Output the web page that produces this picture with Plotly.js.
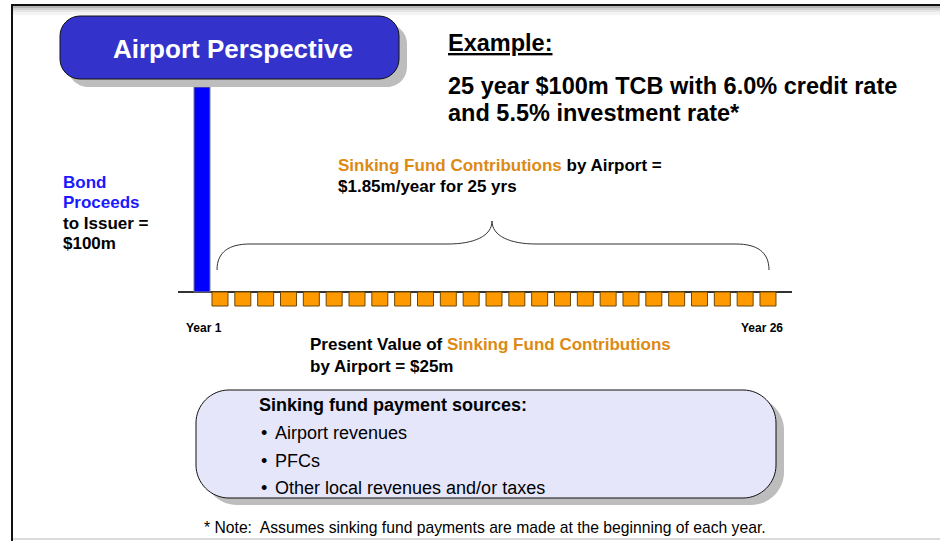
<!DOCTYPE html>
<html><head><meta charset="utf-8">
<script src="https://cdn.plot.ly/plotly-3.0.1.min.js"></script>
<style>html,body{margin:0;padding:0;background:#fff}#chart{width:940px;height:541px}</style>
</head><body><div id="chart"></div>
<script>
// ---- data ----
const years = [1,2,3,4,5,6,7,8,9,10,11,12,13,14,15,16,17,18,19,20,21,22,23,24,25];
const contributions = [1.85,1.85,1.85,1.85,1.85,1.85,1.85,1.85,1.85,1.85,1.85,1.85,1.85,1.85,1.85,1.85,1.85,1.85,1.85,1.85,1.85,1.85,1.85,1.85,1.85];
const proceedsYear = [1];
const proceeds = [100];
const axisLabels = ['Year 1', 'Year 26'];
const bullets = ['Airport revenues', 'PFCs', 'Other local revenues and/or taxes'];

// ---- geometry (pixels) ----
const W = 940, H = 541;
const px = x => x / W;
const py = y => 1 - y / H;
const FONT = 'Liberation Sans, Arial, sans-serif';
const ORANGE_TXT = '#DC8A14';
const BLUE_TXT = '#1a1aff';

const xL = 178, xR = 792, yT = 60, yB = 320, zeroY = 292;
const pitch = 22.833, firstLeft = 212;
const xRange = [1 + (xL - firstLeft) / pitch, 1 + (xR - firstLeft) / pitch];
const k1 = (zeroY - 87) / proceeds[0];
const k2 = 14 / contributions[0];
const y1Range = [-(yB - zeroY) / k1, (zeroY - yT) / k1];
const y2Range = [-(yB - zeroY) / k2, (zeroY - yT) / k2];

const traces = [
  {
    type: 'bar', x: proceedsYear, y: proceeds, yaxis: 'y',
    width: 0.7, offset: -0.788,
    marker: {color: '#0000FF', line: {color: '#7a7a7a', width: 1}},
    hoverinfo: 'skip', showlegend: false
  },
  {
    type: 'bar', x: years, y: contributions.map(v => -v), yaxis: 'y2',
    width: 0.7, offset: 0,
    marker: {color: '#FF9900', line: {color: '#6e4800', width: 1}},
    hoverinfo: 'skip', showlegend: false
  }
];

function roundRect(x0, y0, x1, y1, r) {
  const c = 0.45 * r;
  const P = (x, y) => px(x) + ',' + py(y);
  return 'M ' + P(x0 + r, y0) +
    ' L ' + P(x1 - r, y0) +
    ' C ' + P(x1 - c, y0) + ' ' + P(x1, y0 + c) + ' ' + P(x1, y0 + r) +
    ' L ' + P(x1, y1 - r) +
    ' C ' + P(x1, y1 - c) + ' ' + P(x1 - c, y1) + ' ' + P(x1 - r, y1) +
    ' L ' + P(x0 + r, y1) +
    ' C ' + P(x0 + c, y1) + ' ' + P(x0, y1 - c) + ' ' + P(x0, y1 - r) +
    ' L ' + P(x0, y0 + r) +
    ' C ' + P(x0, y0 + c) + ' ' + P(x0 + c, y0) + ' ' + P(x0 + r, y0) + ' Z';
}
function P2(x, y) { return px(x) + ',' + py(y); }

const bracePath = 'M ' + P2(217, 270) +
  ' C ' + P2(217, 252) + ' ' + P2(229, 244) + ' ' + P2(250, 244) +
  ' L ' + P2(448, 244) +
  ' C ' + P2(474, 244) + ' ' + P2(492, 236) + ' ' + P2(492, 221) +
  ' C ' + P2(492, 236) + ' ' + P2(510, 244) + ' ' + P2(536, 244) +
  ' L ' + P2(736, 244) +
  ' C ' + P2(757, 244) + ' ' + P2(769, 252) + ' ' + P2(769, 270);

const rectPx = (x0, y0, x1, y1, fill) => ({
  type: 'rect', xref: 'paper', yref: 'paper',
  x0: px(x0), x1: px(x1), y0: py(y1), y1: py(y0),
  fillcolor: fill, line: {width: 0}, layer: 'below'
});
const linePx = (x0, y0, x1, y1, color, w) => ({
  type: 'line', xref: 'paper', yref: 'paper',
  x0: px(x0), x1: px(x1), y0: py(y0), y1: py(y1),
  line: {color: color, width: w}
});

const shapes = [
  // frame
  rectPx(12, 6, 940, 8, '#b5b5b5'),
  rectPx(12, 8, 940, 10, '#d2d2d2'),
  rectPx(12, 10, 940, 12, '#e6e6e6'),
  rectPx(12, 12, 940, 15, '#f4f4f4'),
  linePx(12, 5, 940, 5, '#111', 2),
  linePx(12, 4, 12, 541, '#111', 2),
  linePx(13, 539, 940, 539, '#cfcfcf', 1.5),
  // title box
  {type: 'path', xref: 'paper', yref: 'paper', path: roundRect(68, 24, 407, 87, 20), fillcolor: '#bdbdbd', line: {width: 0}},
  {type: 'path', xref: 'paper', yref: 'paper', path: roundRect(60, 16, 399, 79, 20), fillcolor: '#3333CC', line: {color: '#111', width: 1}},
  // lower box
  {type: 'path', xref: 'paper', yref: 'paper', path: roundRect(204, 397, 784, 505, 33), fillcolor: '#bdbdbd', line: {width: 0}},
  {type: 'path', xref: 'paper', yref: 'paper', path: roundRect(196, 390, 776, 498, 33), fillcolor: '#E6E6FA', line: {color: '#111', width: 1}},
  // brace
  {type: 'path', xref: 'paper', yref: 'paper', path: bracePath, line: {color: '#333', width: 1}}
];

function ann(text, x, y, o) {
  o = o || {};
  const anchor = o.xanchor || 'left';
  const xx = anchor === 'left' ? x - 2 : x;
  return {
    text: text, xref: 'paper', yref: 'paper', x: px(xx), y: py(y),
    xanchor: anchor, yanchor: 'middle', showarrow: false,
    align: anchor === 'center' ? 'center' : 'left',
    font: {family: FONT, size: o.size || 17, color: o.color || '#000', weight: o.weight || 'bold'}
  };
}

const annotations = [
  ann('Airport Perspective', 233, 49, {size: 26, color: '#fff', xanchor: 'center'}),
  ann('<u>Example:</u>', 448, 43, {size: 23.5}),
  ann('25 year $100m TCB with 6.0% credit rate', 448, 86, {size: 23.5}),
  ann('and 5.5% investment rate*', 448, 113, {size: 23.5}),
  ann('<span style="color:' + ORANGE_TXT + '">Sinking Fund Contributions</span> by Airport =', 338, 165),
  ann('$' + contributions[0] + 'm/year for ' + years.length + ' yrs', 338, 187),
  ann('Bond', 63, 182, {color: BLUE_TXT}),
  ann('Proceeds', 63, 202, {color: BLUE_TXT}),
  ann('to Issuer =', 63, 223),
  ann('$' + proceeds[0] + 'm', 63, 243),
  ann(axisLabels[0], 204, 328, {size: 12, xanchor: 'center'}),
  ann(axisLabels[1], 762, 328, {size: 12, xanchor: 'center'}),
  ann('Present Value of <span style="color:' + ORANGE_TXT + '">Sinking Fund Contributions</span>', 310, 344),
  ann('by Airport = $25m', 310, 366),
  ann('Sinking fund payment sources:', 259, 405, {size: 18}),
  ann('* Note:  Assumes sinking fund payments are made at the beginning of each year.', 204, 527, {size: 15.7, weight: 'normal'})
];
bullets.forEach((b, i) => {
  const y = 433 + i * 27.5;
  annotations.push(ann('\u2022', 264, y, {size: 18, weight: 'normal', xanchor: 'center'}));
  annotations.push(ann(b, 275, y, {size: 18, weight: 'normal'}));
});

const layout = {
  width: W, height: H, autosize: false,
  margin: {l: 0, r: 0, t: 0, b: 0, pad: 0},
  paper_bgcolor: '#fff', plot_bgcolor: 'rgba(0,0,0,0)',
  barmode: 'overlay', showlegend: false,
  xaxis: {domain: [px(xL), px(xR)], range: xRange, showgrid: false, zeroline: false,
          showticklabels: false, showline: false, ticks: '', fixedrange: true},
  yaxis: {domain: [py(yB), py(yT)], range: y1Range, showgrid: false, zeroline: true,
          zerolinecolor: '#333', zerolinewidth: 2, showticklabels: false, showline: false, ticks: ''},
  yaxis2: {overlaying: 'y', range: y2Range, showgrid: false, zeroline: false,
           showticklabels: false, showline: false, ticks: ''},
  shapes: shapes,
  annotations: annotations
};

Plotly.newPlot('chart', traces, layout, {staticPlot: true, displayModeBar: false});
</script>
</body></html>
